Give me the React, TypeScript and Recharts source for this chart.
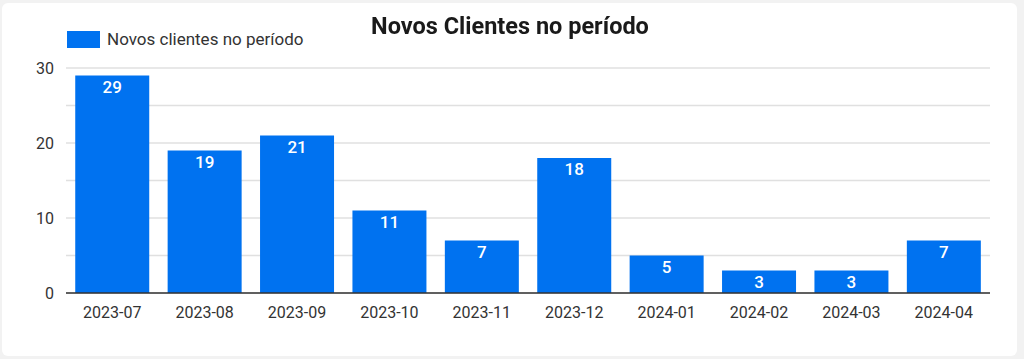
import React from "react";
import { BarChart, Bar, XAxis, YAxis, CartesianGrid, LabelList } from "recharts";

const categories = ["2023-07", "2023-08", "2023-09", "2023-10", "2023-11", "2023-12", "2024-01", "2024-02", "2024-03", "2024-04"];
const novosClientes = [29, 19, 21, 11, 7, 18, 5, 3, 3, 7];
const yTicks = [0, 5, 10, 15, 20, 25, 30];

const data = categories.map((c, i) => ({ mes: c, valor: novosClientes[i] }));

const FONT = "Roboto, 'Noto Sans', sans-serif";
const BLUE = "#0072f0";

export default function App() {
  return (
    <div style={{ position: "fixed", left: 0, top: 0, width: 1024, height: 359, background: "#f2f2f2" }}>
      <div style={{ position: "absolute", left: 2, top: 3, width: 1015, height: 353, background: "#fff", borderRadius: 6 }} />
      <div style={{ position: "absolute", left: 0, top: 0 }}>
        <BarChart width={1024} height={359} data={data} margin={{ top: 68, right: 34, bottom: 36, left: 10 }} barCategoryGap="10%">
          <CartesianGrid vertical={false} stroke="#e0e0e0" strokeWidth={1.5} />
          <XAxis
            dataKey="mes"
            axisLine={{ stroke: "#333", strokeWidth: 1.5 }}
            tickLine={false}
            tick={{ fill: "#333", fontSize: 16, fontFamily: FONT }}
            tickMargin={8}
            height={30}
          />
          <YAxis
            domain={[0, 30]}
            ticks={yTicks}
            interval={0}
            axisLine={false}
            tickLine={false}
            width={56}
            tickMargin={6}
            tick={{ fill: "#333", fontSize: 16, fontFamily: FONT }}
            tickFormatter={(v: number) => (v % 10 === 0 ? String(v) : "")}
          />
          <Bar dataKey="valor" name="Novos clientes no período" fill={BLUE} isAnimationActive={false}>
            <LabelList
              dataKey="valor"
              position="insideTop"
              offset={5}
              fill="#fff"
              style={{ fontFamily: FONT, fontSize: 17, fontWeight: 500 }}
            />
          </Bar>
        </BarChart>
      </div>
      <div
        style={{
          position: "absolute",
          left: 67,
          top: 31,
          display: "flex",
          alignItems: "center",
          fontFamily: FONT,
          fontSize: 17,
          color: "#333",
          lineHeight: "17px",
        }}
      >
        <span style={{ display: "inline-block", width: 33, height: 17, background: BLUE, marginRight: 7 }} />
        <span>Novos clientes no período</span>
      </div>
      <div
        style={{
          position: "absolute",
          left: 0,
          top: 12,
          width: 1024,
          textAlign: "center",
          fontFamily: FONT,
          fontWeight: 700,
          fontSize: 23.5,
          color: "#1a1a1a",
          transform: "translateX(-2px)",
        }}
      >
        Novos Clientes no período
      </div>
    </div>
  );
}
